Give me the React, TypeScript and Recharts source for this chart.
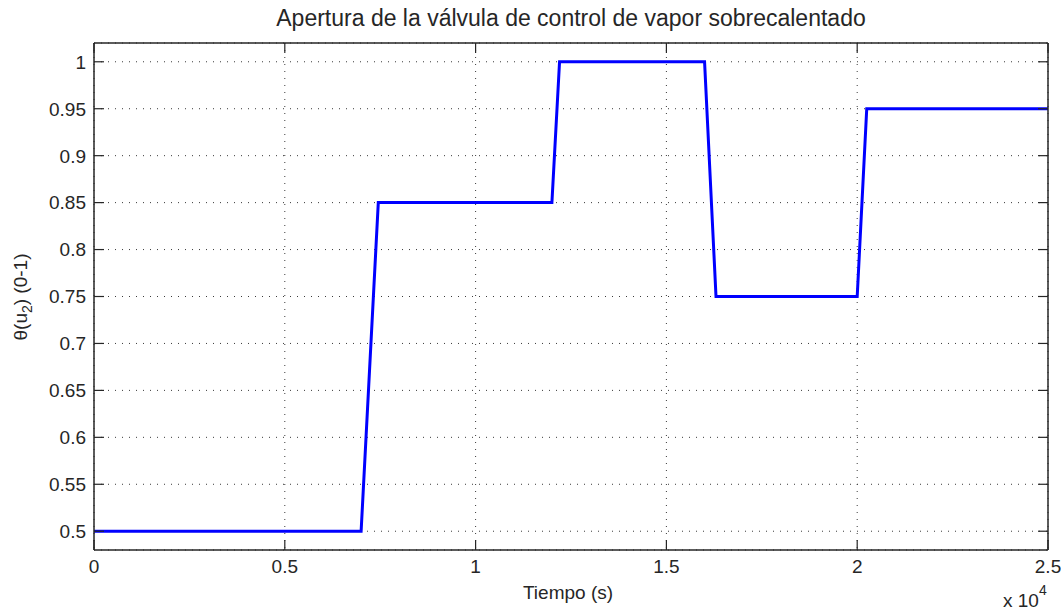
import React from 'react';
import { LineChart, Line, XAxis, YAxis, CartesianGrid } from 'recharts';

// valve opening (0-1) vs time in seconds
const TIMES = [0, 7000, 7450, 12000, 12200, 16000, 16300, 20000, 20250, 25000];
const OPENING = [0.5, 0.5, 0.85, 0.85, 1, 1, 0.75, 0.75, 0.95, 0.95];

const X_TICKS = [0, 5000, 10000, 15000, 20000, 25000];
const X_TICK_LABELS = ['0', '0.5', '1', '1.5', '2', '2.5'];
const Y_TICKS = [0.5, 0.55, 0.6, 0.65, 0.7, 0.75, 0.8, 0.85, 0.9, 0.95, 1];
const Y_TICK_LABELS = ['0.5', '0.55', '0.6', '0.65', '0.7', '0.75', '0.8', '0.85', '0.9', '0.95', '1'];

const data = TIMES.map((t, i) => ({ t, v: OPENING[i] }));

const W = 1061;
const H = 611;
const FONT = '"Liberation Sans", Arial, Helvetica, sans-serif';
const INK = '#262626';
const TICK_LEN = 10;
const tickLineStyle = { stroke: INK, strokeWidth: 1.2 };
const axisLineStyle = { stroke: INK, strokeWidth: 1.5 };

const BottomTick = (props: any) => {
  const { x, y, index } = props;
  return (
    <text x={x} y={y} dy="0.72em" textAnchor="middle" fontSize={19} fill={INK} fontFamily={FONT}>
      {X_TICK_LABELS[index]}
    </text>
  );
};

const LeftTick = (props: any) => {
  const { x, y, index } = props;
  return (
    <text x={x} y={y} dy="0.36em" textAnchor="end" fontSize={19} fill={INK} fontFamily={FONT}>
      {Y_TICK_LABELS[index]}
    </text>
  );
};

// top axis only carries inward ticks (MATLAB box)
const TopTick = (props: any) => {
  const { x, y } = props;
  return <line x1={x} y1={y} x2={x} y2={y + TICK_LEN} stroke={INK} strokeWidth={1.2} />;
};

const NoLabel = () => <g />;

export default function App() {
  return (
    <div style={{ position: 'absolute', left: 0, top: 0, width: W, height: H, background: '#fff' }}>
      <LineChart
        width={W}
        height={H}
        data={data}
        margin={{ top: 42, right: 12, bottom: 0, left: 0 }}
      >
        <CartesianGrid stroke="#3a3a3a" strokeDasharray="1 6" />
        <XAxis
          dataKey="t"
          type="number"
          domain={[0, 25000]}
          ticks={X_TICKS}
          height={61}
          tickSize={-TICK_LEN}
          tickMargin={19}
          tickLine={tickLineStyle}
          tick={<BottomTick />}
          axisLine={axisLineStyle}
          interval={0}
          allowDataOverflow
        />
        <XAxis
          xAxisId="top"
          dataKey="t"
          orientation="top"
          type="number"
          domain={[0, 25000]}
          ticks={X_TICKS}
          height={1}
          tickSize={0}
          tickMargin={0}
          tick={<TopTick />}
          axisLine={axisLineStyle}
          interval={0}
          allowDataOverflow
        />
        <YAxis
          type="number"
          domain={[0.48, 1.02]}
          ticks={Y_TICKS}
          width={94}
          tickSize={-TICK_LEN}
          tickMargin={18}
          tickLine={tickLineStyle}
          tick={<LeftTick />}
          axisLine={axisLineStyle}
          interval={0}
          allowDataOverflow
        />
        <YAxis
          yAxisId="right"
          orientation="right"
          type="number"
          domain={[0.48, 1.02]}
          ticks={Y_TICKS}
          width={1}
          tickSize={-TICK_LEN}
          tickMargin={0}
          tickLine={tickLineStyle}
          tick={<NoLabel />}
          axisLine={axisLineStyle}
          interval={0}
          allowDataOverflow
        />
        {/* invisible copy so the top/right box axes get drawn */}
        <Line
          xAxisId="top"
          yAxisId="right"
          type="linear"
          dataKey="v"
          stroke="none"
          dot={false}
          activeDot={false}
          isAnimationActive={false}
        />
        <Line
          type="linear"
          dataKey="v"
          stroke="#0000ff"
          strokeWidth={3}
          dot={false}
          activeDot={false}
          isAnimationActive={false}
        />
      </LineChart>
      <svg
        width={W}
        height={H}
        style={{ position: 'absolute', left: 0, top: 0, pointerEvents: 'none' }}
        fontFamily={FONT}
        fill={INK}
      >
        <text x={571} y={26} textAnchor="middle" fontSize={23}>
          Apertura de la válvula de control de vapor sobrecalentado
        </text>
        <text x={568} y={599} textAnchor="middle" fontSize={19}>
          Tiempo (s)
        </text>
        <text x={1003} y={607} fontSize={19}>
          x 10
          <tspan fontSize={14} dy={-12}>4</tspan>
        </text>
        <text transform="translate(27,297) rotate(-90)" textAnchor="middle" fontSize={19}>
          θ(u
          <tspan fontSize={14} dy={5}>2</tspan>
          <tspan dy={-5}>) (0-1)</tspan>
        </text>
      </svg>
    </div>
  );
}
